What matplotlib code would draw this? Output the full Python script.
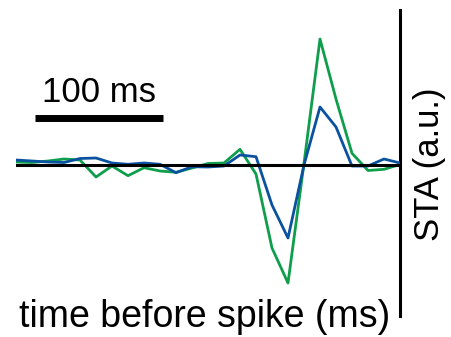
import matplotlib
matplotlib.use("Agg")
import matplotlib.pyplot as plt

plt.rcParams["font.family"] = ["Liberation Sans", "DejaVu Sans"]

# time before spike (ms), one sample every 12.5 ms
time_ms = [-300, -287.5, -275, -262.5, -250, -237.5, -225, -212.5, -200,
           -187.5, -175, -162.5, -150, -137.5, -125, -112.5, -100, -87.5,
           -75, -62.5, -50, -37.5, -25, -12.5, 0]
sta_blue = [0.05, 0.04, 0.03, 0.025, 0.065, 0.07, 0.02, 0.007, 0.02, 0.007,
            -0.077, -0.017, -0.02, -0.01, 0.10, 0.083, -0.40, -0.73, 0.0,
            0.58, 0.38, -0.01, -0.01, 0.06, 0.02]
sta_green = [0.03, 0.025, 0.04, 0.06, 0.05, -0.12, -0.01, -0.107, -0.027,
             -0.06, -0.073, -0.03, 0.015, 0.02, 0.157, -0.09, -0.83, -1.18,
             0.017, 1.26, 0.66, 0.117, -0.055, -0.043, 0.005]
scale_bar_ms = 100

W, H = 451, 337
fig = plt.figure(figsize=(W / 100, H / 100), dpi=100)
ax = fig.add_axes([16 / W, (H - 316) / H, 384 / W, 306 / H])

ax.plot(time_ms, sta_green, color="#0e9e4c", lw=2.0, zorder=2)
ax.plot(time_ms, sta_blue, color="#0a52a0", lw=2.0, zorder=3)
ax.plot([time_ms[0], time_ms[-1]], [0, 0], color="black", lw=2.2, zorder=4)

# scale bar
x0 = -285
ax.plot([x0, x0 + scale_bar_ms], [0.465, 0.465], color="black", lw=5,
        solid_capstyle="butt", clip_on=False)
ax.text(x0 + scale_bar_ms / 2, 0.63, f"{scale_bar_ms} ms", ha="center",
        va="baseline", fontsize=25)

ax.set_xlim(-300, 0)
ax.set_ylim(-1.51, 1.55)
for side in ["top", "left", "bottom"]:
    ax.spines[side].set_visible(False)
ax.spines["right"].set_linewidth(2.2)
ax.set_xticks([])
ax.set_yticks([])

fig.text(205 / W, 1 - 327 / H, "time before spike (ms)", ha="center",
         va="baseline", fontsize=27)
fig.text(429 / W, 1 - 164 / H, "STA (a.u.)", ha="center", va="center",
         rotation=90, fontsize=25)

fig.savefig("out.png", dpi=100)
